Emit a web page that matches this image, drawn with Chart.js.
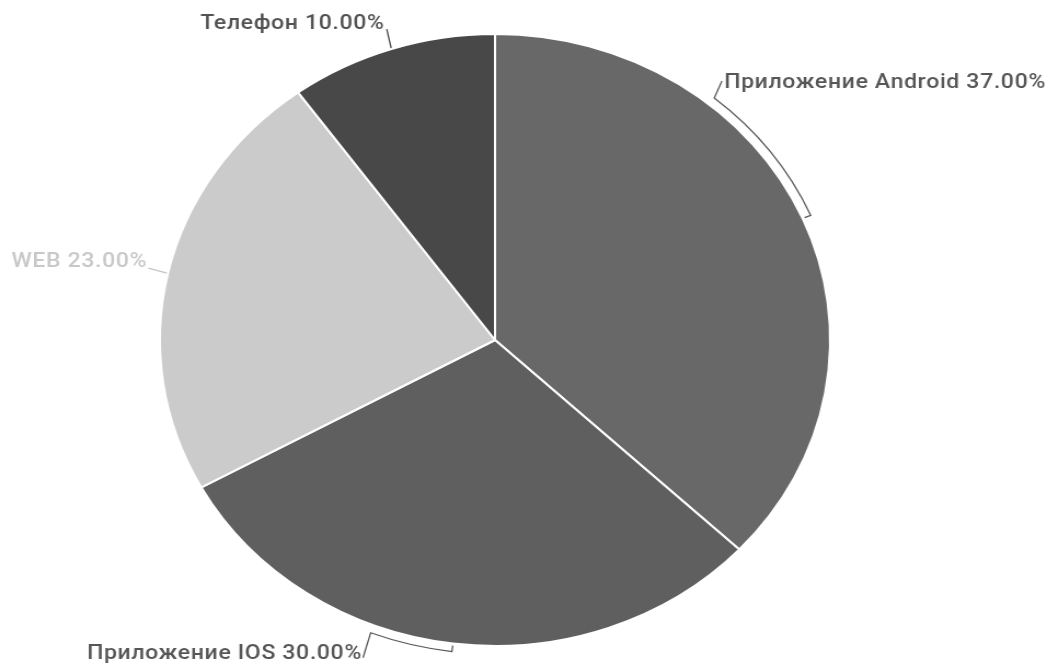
<!DOCTYPE html>
<html>
<head>
<meta charset="utf-8">
<script src="https://cdn.jsdelivr.net/npm/chart.js@4.4.1/dist/chart.umd.min.js"></script>
<style>
  html, body { margin: 0; padding: 0; background: #fff; overflow: hidden; }
  #wrap { width: 956px; height: 665px; transform: scaleX(1.0952); transform-origin: 0 0; }
</style>
</head>
<body>
<div id="wrap"><canvas id="c" width="956" height="665"></canvas></div>
<script>
const categories = ['Приложение Android', 'Приложение IOS', 'WEB', 'Телефон'];
const shares = [37, 30, 23, 10];
const sliceColors = ['#686868', '#5f5f5f', '#cbcbcb', '#484848'];

// label layout per slice (presentation only)
const labelLayout = [
  { sweep: -27, legDx: 7,   legDy: -17, align: 'left',  textDx: 2,  textDy: 2,  lineColor: '#5a5a5a', textColor: '#565656' },
  { sweep: 14,  legDx: -7,  legDy: 25,  align: 'right', textDx: -1, textDy: -4, lineColor: '#5a5a5a', textColor: '#565656' },
  { sweep: 0,   legDx: -17, legDy: -5,  align: 'right', textDx: -1, textDy: -6, lineColor: '#c4c4c4', textColor: '#c8c8c8' },
  { sweep: 0,   legDx: -4,  legDy: -19, align: 'right', textDx: -2, textDy: -5, lineColor: '#4a4a4a', textColor: '#525252' }
];

const sliceLabels = {
  id: 'sliceLabels',
  afterDatasetsDraw(chart) {
    const ctx = chart.ctx;
    const meta = chart.getDatasetMeta(0);
    const data = chart.data.datasets[0].data;
    meta.data.forEach((arc, i) => {
      const p = arc.getProps(['x', 'y', 'startAngle', 'endAngle', 'outerRadius'], true);
      const L = labelLayout[i];
      const mid = (p.startAngle + p.endAngle) / 2;
      const pt = (a, r) => [p.x + Math.cos(a) * r, p.y + Math.sin(a) * r];
      ctx.save();
      ctx.strokeStyle = L.lineColor;
      ctx.lineWidth = 1.3;
      ctx.beginPath();
      let corner;
      if (L.sweep !== 0) {
        const rb = p.outerRadius + 8;
        const a0 = pt(mid, p.outerRadius + 2);
        ctx.moveTo(a0[0], a0[1]);
        const a1 = pt(mid, rb);
        ctx.lineTo(a1[0], a1[1]);
        const end = mid + L.sweep * Math.PI / 180;
        ctx.arc(p.x, p.y, rb, mid, end, L.sweep < 0);
        corner = pt(end, rb);
      } else {
        corner = pt(mid, p.outerRadius + 1);
        ctx.moveTo(corner[0], corner[1]);
      }
      const tx = corner[0] + L.legDx, ty = corner[1] + L.legDy;
      ctx.lineTo(tx, ty);
      ctx.stroke();
      ctx.fillStyle = L.textColor;
      ctx.font = '500 21px Roboto';
      if ('letterSpacing' in ctx) ctx.letterSpacing = '0.6px';
      ctx.textAlign = L.align;
      ctx.textBaseline = 'middle';
      ctx.fillText(categories[i] + ' ' + data[i].toFixed(2) + '%', tx + L.textDx, ty + L.textDy);
      ctx.restore();
    });
  }
};

new Chart(document.getElementById('c'), {
  type: 'pie',
  data: {
    labels: categories,
    datasets: [{
      data: shares,
      backgroundColor: sliceColors,
      borderColor: '#ffffff',
      borderWidth: 2,
      hoverOffset: 0,
      radius: 306
    }]
  },
  options: {
    responsive: false,
    animation: false,
    layout: { padding: { left: 100, right: 152, top: 30, bottom: 15 } },
    plugins: { legend: { display: false }, tooltip: { enabled: false } }
  },
  plugins: [sliceLabels]
});
</script>
</body>
</html>
